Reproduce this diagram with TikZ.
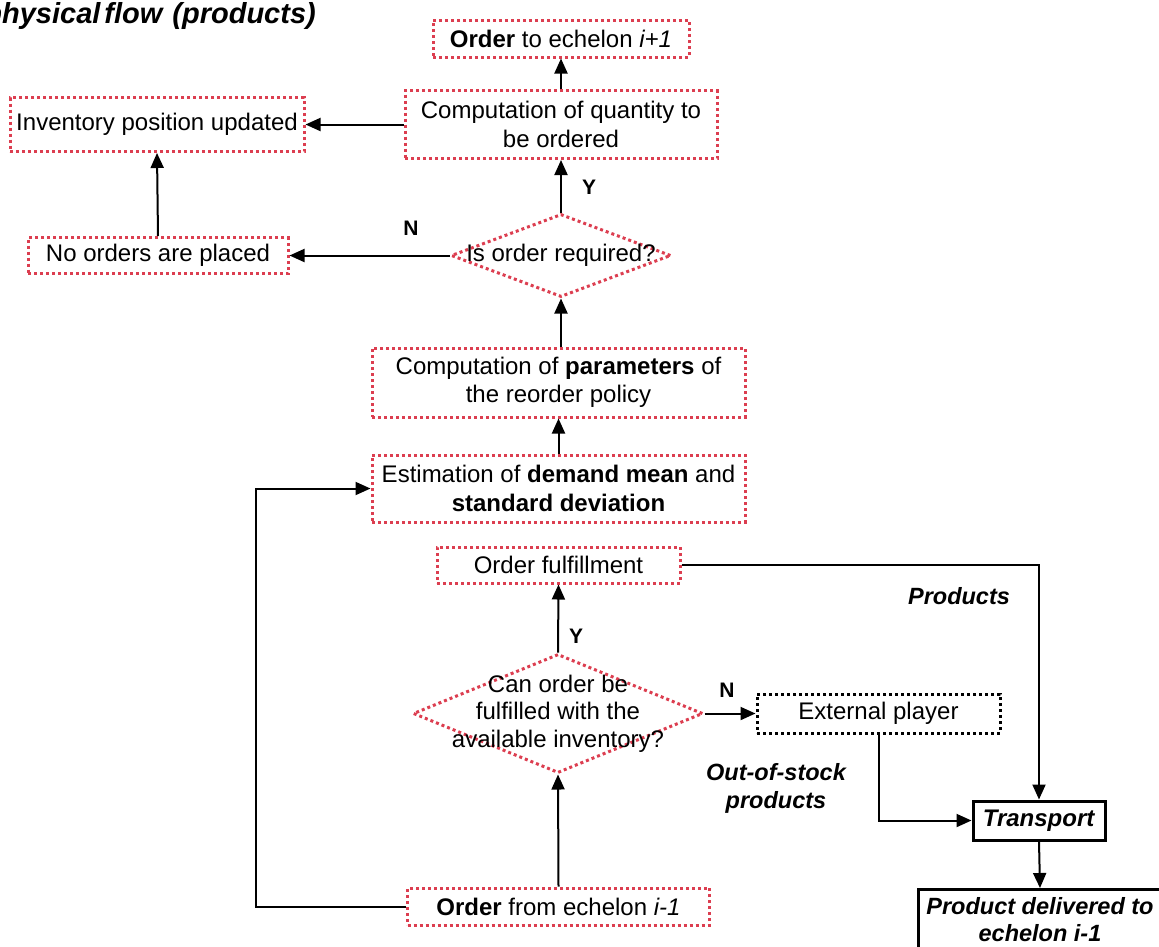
\documentclass[tikz,border=0pt]{standalone}
\usepackage{fontspec}
\setmainfont{Liberation Sans}
\usetikzlibrary{arrows.meta,shapes.geometric}
\definecolor{dotred}{RGB}{220,62,80}
\begin{document}
\begin{tikzpicture}[x=1pt,y=-1pt,
  font=\fontsize{24}{28.5}\selectfont,
  redbox/.style={draw=dotred, line width=3pt, dash pattern=on 3pt off 3pt, rectangle, inner sep=0pt, align=center},
  reddia/.style={draw=dotred, line width=3pt, dash pattern=on 3pt off 3pt, diamond, inner sep=0pt},
  blkdot/.style={draw=black, line width=3pt, dash pattern=on 3pt off 3pt, rectangle, inner sep=0pt, align=center},
  solidbox/.style={draw=black, line width=3pt, rectangle, inner sep=0pt, align=center},
  arr/.style={-{Triangle[length=15pt,width=13pt]}, line width=2pt},
  lbl/.style={font=\fontsize{21}{24}\selectfont\bfseries},
  ilbl/.style={font=\fontsize{23.5}{28}\selectfont\bfseries\itshape, align=center},
]
\useasboundingbox (0,0) rectangle (1159,946);
\clip (0,0) rectangle (1159,946);

\node[font=\fontsize{29}{32}\selectfont\bfseries\itshape, anchor=east, inner sep=0pt] (title) at (316,16) {physical\hspace{4pt}flow\hspace{10pt}(products)};

\node[redbox, minimum width=256pt, minimum height=37pt] (ord) at (561,38.5) {\textbf{Order} to echelon \textit{i+1}};
\node[redbox, minimum width=312pt, minimum height=68pt] (cq) at (561,124.5) {Computation of quantity to\\be ordered};
\node[redbox, minimum width=294pt, minimum height=54pt] (inv) at (157,124.5) {Inventory position updated};
\node[redbox, minimum width=260pt, minimum height=36pt] (noo) at (158,255.5) {No orders are placed};
\node[reddia, minimum width=220pt, minimum height=83pt] (d1) at (561,255.5) {};
\node (d1t) at (d1) {Is order required?};
\node[redbox, minimum width=373pt, minimum height=69pt] (par) at (558.5,382.5) {Computation of \textbf{parameters} of\\the reorder policy};
\node[redbox, minimum width=373pt, minimum height=67pt] (est) at (558.5,488.5) {Estimation of \textbf{demand mean} and\\\textbf{standard deviation}};
\node[redbox, minimum width=243pt, minimum height=36pt] (ful) at (558.5,565) {Order fulfillment};
\node[reddia, minimum width=290pt, minimum height=119pt] (d2) at (558,713.5) {};
\node[align=center, font=\fontsize{24}{27.5}\selectfont] (d2t) at (d2) {Can order be\\fulfilled with the\\available inventory?};
\node[blkdot, minimum width=243pt, minimum height=39pt] (ext) at (878.5,713.5) {External player};
\node[solidbox, minimum width=132pt, minimum height=39pt] (tr) at (1039,820.5) {\textbf{\textit{Transport}}};
\node[solidbox, minimum width=244pt, minimum height=61pt, anchor=north, font=\fontsize{23.5}{27}\selectfont] (pd) at (1040,888) {\textbf{\textit{Product delivered to}}\\\textbf{\textit{echelon i-1}}};
\node[redbox, minimum width=302pt, minimum height=37pt] (ofe) at (558.5,906.5) {\textbf{Order} from echelon \textit{i-1}};

\node[lbl] (n1) at (411,228) {N};
\node[lbl] (y1) at (589,187) {Y};
\node[lbl] (y2) at (576,636) {Y};
\node[lbl] (n2) at (727,690) {N};
\node[ilbl] (prod) at (959,596) {Products};
\node[ilbl] (oos) at (776,788) {Out-of-stock\\products};

\draw[arr] (cq.north) -- (ord.south);
\draw[arr] (cq.west) -- (inv.east);
\draw[arr] (noo.north) -- (inv.south);
\draw[arr] (d1.west) -- (noo.east);
\draw[arr] (d1.north) -- (cq.south);
\draw[arr] (par.north -| d1.south) -- (d1.south);
\draw[arr] (est.north) -- (par.south);
\draw[arr] (d2.north) -- (ful.south);
\draw[arr] (ofe.north) -- (d2.south);
\draw[arr] (ofe.west) -- ++(-150,0) |- (est.west);
\draw[arr] (d2.east) -- (ext.west);
\draw[arr] (ful.east) -| (tr.north);
\draw[arr] (ext.south) |- (tr.west);
\draw[arr] (tr.south) -- (pd.north);
\end{tikzpicture}
\end{document}
